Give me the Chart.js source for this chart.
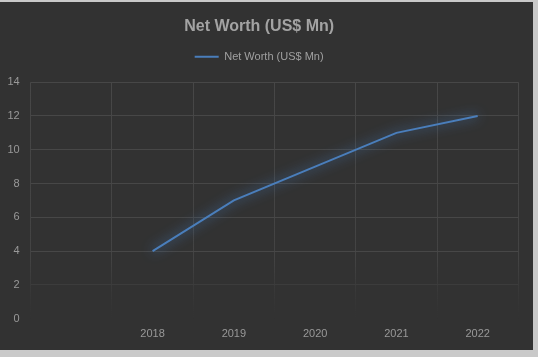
<!DOCTYPE html>
<html>
<head>
<meta charset="utf-8">
<script src="https://cdn.jsdelivr.net/npm/chart.js@4"></script>
<style>
  html, body { margin: 0; padding: 0; background: #c9c9c9; }
  #wrap { position: absolute; left: 0; top: 2px; width: 533px; height: 348px; background: #323232; }
  canvas { display: block; }
</style>
</head>
<body>
<div id="wrap"><canvas id="c" width="533" height="348"></canvas></div>
<script>
const categories = ["", "2018", "2019", "2020", "2021", "2022"];
const netWorth = [null, 4, 7, 9, 11, 12];
const seriesName = "Net Worth (US$ Mn)";
const chartTitle = "Net Worth (US$ Mn)";
const yMin = 0, yMax = 14, yStep = 2;

const FONT = "'Liberation Sans', Arial, sans-serif";

const glow = {
  id: 'glow',
  beforeDatasetDraw(chart) {
    const ctx = chart.ctx;
    ctx.save();
    ctx.shadowColor = 'rgba(75,135,205,1)';
    ctx.shadowBlur = 12;
  },
  afterDatasetDraw(chart) { chart.ctx.restore(); }
};
const legendGap = {
  id: 'legendGap',
  beforeInit(chart) {
    const orig = chart.legend.fit;
    chart.legend.fit = function () { orig.bind(chart.legend)(); this.height += 10; };
  }
};

function vGrid(context) {
  const chart = context.chart;
  const a = chart.chartArea;
  if (!a) return '#464646';
  const g = chart.ctx.createLinearGradient(0, a.top, 0, a.bottom);
  g.addColorStop(0, '#474747');
  g.addColorStop(0.75, '#434343');
  g.addColorStop(1, 'rgba(60,60,60,0)');
  return g;
}

new Chart(document.getElementById('c'), {
  type: 'line',
  data: {
    labels: categories,
    datasets: [{
      label: seriesName,
      data: netWorth,
      borderColor: '#4a7ebb',
      backgroundColor: '#4a7ebb',
      borderWidth: 2,
      pointRadius: 0,
      tension: 0,
      spanGaps: false
    }]
  },
  options: {
    responsive: false,
    animation: false,
    layout: { padding: { left: 0, right: 14.7, top: 0, bottom: 0 } },
    plugins: {
      title: {
        display: true,
        text: chartTitle,
        color: '#a3a3a3',
        font: { family: FONT, size: 16, weight: 'bold' },
        padding: { top: 15, bottom: 5 }
      },
      legend: {
        display: true,
        labels: {
          usePointStyle: false,
          boxWidth: 24,
          boxHeight: 2,
          color: '#a0a0a0',
          font: { family: FONT, size: 11 },
          padding: 10,
          generateLabels(chart) {
            return chart.data.datasets.map((d, i) => ({
              text: d.label, fillStyle: '#4a7ebb', strokeStyle: '#4a7ebb',
              lineWidth: 0, hidden: false, datasetIndex: i, fontColor: '#a0a0a0'
            }));
          }
        }
      },
      tooltip: { enabled: false }
    },
    scales: {
      x: {
        offset: true,
        grid: { offset: true, color: vGrid, lineWidth: 1, drawTicks: false },
        border: { display: false },
        ticks: { color: '#999999', font: { family: FONT, size: 11 }, padding: 9, maxRotation: 0 },
        afterFit(s) { s.height = 31.3; }
      },
      y: {
        min: yMin, max: yMax,
        ticks: { stepSize: yStep, color: '#999999', font: { family: FONT, size: 11 }, padding: 11 },
        grid: {
          drawTicks: false,
          lineWidth: 1,
          color: (c) => c.tick && c.tick.value === 0 ? 'rgba(0,0,0,0)' : (c.tick && c.tick.value === 2 ? '#3c3c3c' : '#474747')
        },
        border: { display: false },
        afterFit(s) { s.width = 30.7; }
      }
    }
  },
  plugins: [glow, legendGap]
});
</script>
</body>
</html>
